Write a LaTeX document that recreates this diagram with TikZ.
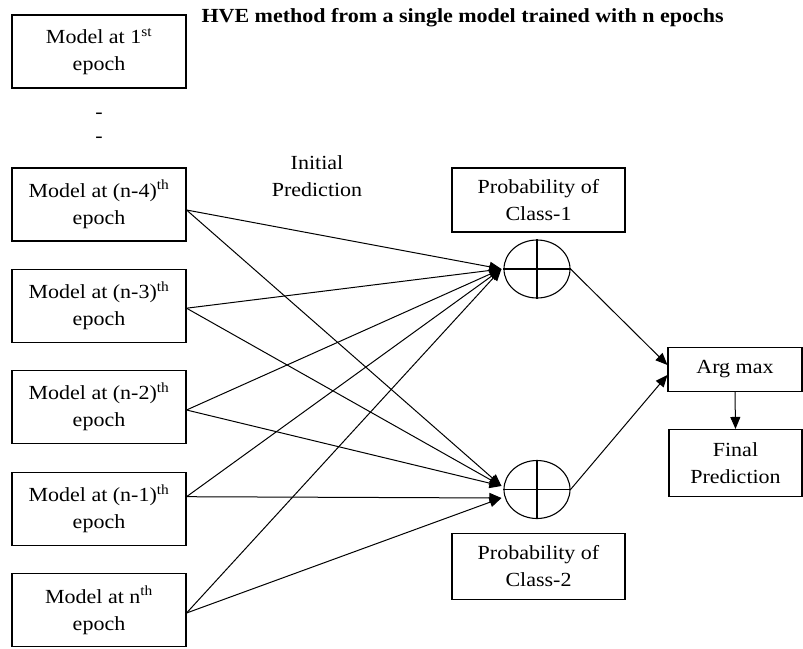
\documentclass[tikz,border=0pt]{standalone}
\usepackage{fontspec}
\setmainfont{Liberation Serif}[FakeStretch=1.1]
\usetikzlibrary{shapes.geometric,arrows.meta,calc}
\begin{document}
\begin{tikzpicture}[x=1pt,y=-1pt,
  every node/.style={font=\fontsize{20}{27}\selectfont},
  box/.style={draw,line width=1.1pt,minimum width=174pt,minimum height=73pt,inner sep=0pt,align=center},
  pbox/.style={draw,line width=1.1pt,minimum width=173pt,minimum height=64pt,inner sep=0pt,align=center},
  rbox/.style={draw,line width=1.1pt,minimum width=134pt,inner sep=0pt,align=center},
  sumnode/.style={draw,ellipse,line width=1.1pt,minimum width=66pt,minimum height=58pt,inner sep=0pt},
  conn/.style={line width=1pt},
  arr/.style={line width=1pt,-{Triangle[length=12pt,width=10pt]}}]
\useasboundingbox (0,0) rectangle (803,648);
\node[font=\fontsize{20}{24}\bfseries,anchor=west] (title) at (198,18) {HVE method from a single model trained with n epochs};
\node[box] (b1) at (99,51.5) {Model at 1\textsuperscript{st}\\epoch};
\node (d1) at (99,116) {-};
\node (d2) at (99,140) {-};
\node[box] (b4) at (99,204.5) {Model at (n-4)\textsuperscript{th}\\epoch};
\node[box] (b3) at (99,305.7) {Model at (n-3)\textsuperscript{th}\\epoch};
\node[box] (b2) at (99,407) {Model at (n-2)\textsuperscript{th}\\epoch};
\node[box] (bm1) at (99,508.7) {Model at (n-1)\textsuperscript{th}\\epoch};
\node[box] (bn) at (99,610) {Model at n\textsuperscript{th}\\epoch};
\node[align=center] (init) at (317,176) {Initial\\Prediction};
\node[pbox] (p1) at (538.5,200) {Probability of\\Class-1};
\node[pbox,minimum height=66pt] (p2) at (538.5,566.3) {Probability of\\Class-2};
\node[sumnode] (c1) at (537,269) {};
\node[sumnode] (c2) at (537,489.5) {};
\draw[line width=1.1pt] (c1.north) -- (c1.south) (c1.west) -- (c1.east);
\draw[line width=1.1pt] (c2.north) -- (c2.south) (c2.west) -- (c2.east);
\node[rbox,minimum height=44pt] (am) at (735,369.5) {Arg max};
\node[rbox,minimum width=133pt,minimum height=67pt] (fp) at (735.5,463) {Final\\Prediction};
\coordinate (i1) at ($(c1.west)+(-2,0)$);
\coordinate (i2a) at ($(c2.west)+(-2,-3.5)$);
\coordinate (i2b) at ($(c2.west)+(-2,8.5)$);
% connectors to sum 1
\draw[arr] ([yshift=-5.5pt]b4.east) -- (i1);
\draw[arr] ([yshift=-2.5pt]b3.east) -- (i1);
\draw[arr] ([yshift=-3pt]b2.east) -- (i1);
\draw[arr] ([yshift=12pt]bm1.east) -- (i1);
\draw[arr] ([yshift=-3pt]bn.east) -- (i1);
% connectors to sum 2
\draw[arr] ([yshift=-5.5pt]b4.east) -- (i2a);
\draw[arr] ([yshift=-2.5pt]b3.east) -- (i2a);
\draw[arr] ([yshift=-3pt]b2.east) -- (i2a);
\draw[arr] ([yshift=12pt]bm1.east) -- (i2b);
\draw[arr] ([yshift=-3pt]bn.east) -- (i2b);
% to arg max
\draw[arr] (c1.east) -- ([yshift=4.5pt]am.west);
\draw[arr] (c2.east) -- ([yshift=-5.5pt]am.west);
\draw[arr] (am.south) -- (fp.north);
\end{tikzpicture}
\end{document}
